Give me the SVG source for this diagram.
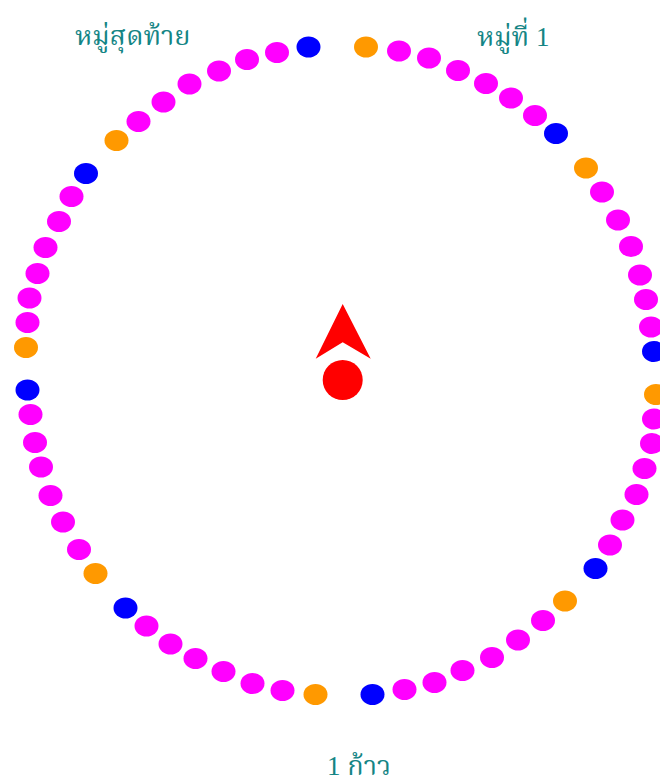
<svg xmlns="http://www.w3.org/2000/svg" width="660" height="780" viewBox="0 0 660 780">
<style>
.m{fill:#ff00ff}
.o{fill:#ff9900}
.b{fill:#0000ff}
.t{font-family:"Liberation Serif","Noto Serif Thai","Noto Sans",serif;font-size:27px;fill:#148585}
</style>
<rect width="660" height="780" fill="#ffffff"/>
<g id="dots">
<ellipse class="o" cx="366" cy="47" rx="12" ry="10.5"/>
<ellipse class="m" cx="399" cy="51" rx="12" ry="10.5"/>
<ellipse class="m" cx="429" cy="58" rx="12" ry="10.5"/>
<ellipse class="m" cx="458" cy="70.5" rx="12" ry="10.5"/>
<ellipse class="m" cx="486" cy="83.5" rx="12" ry="10.5"/>
<ellipse class="m" cx="511" cy="98" rx="12" ry="10.5"/>
<ellipse class="m" cx="535" cy="115.5" rx="12" ry="10.5"/>
<ellipse class="b" cx="556" cy="133.5" rx="12" ry="10.5"/>
<ellipse class="o" cx="586" cy="168" rx="12" ry="10.5"/>
<ellipse class="m" cx="602" cy="192" rx="12" ry="10.5"/>
<ellipse class="m" cx="618" cy="220" rx="12" ry="10.5"/>
<ellipse class="m" cx="631" cy="246.5" rx="12" ry="10.5"/>
<ellipse class="m" cx="640" cy="275" rx="12" ry="10.5"/>
<ellipse class="m" cx="646" cy="299.5" rx="12" ry="10.5"/>
<ellipse class="m" cx="651" cy="327" rx="12" ry="10.5"/>
<ellipse class="b" cx="654" cy="351.5" rx="12" ry="10.5"/>
<ellipse class="o" cx="656" cy="394.5" rx="12" ry="10.5"/>
<ellipse class="m" cx="654" cy="419" rx="12" ry="10.5"/>
<ellipse class="m" cx="652" cy="443.5" rx="12" ry="10.5"/>
<ellipse class="m" cx="644.5" cy="468.5" rx="12" ry="10.5"/>
<ellipse class="m" cx="636.5" cy="494.5" rx="12" ry="10.5"/>
<ellipse class="m" cx="622.5" cy="520" rx="12" ry="10.5"/>
<ellipse class="m" cx="610" cy="545" rx="12" ry="10.5"/>
<ellipse class="b" cx="595.5" cy="568.5" rx="12" ry="10.5"/>
<ellipse class="o" cx="565" cy="601" rx="12" ry="10.5"/>
<ellipse class="m" cx="543" cy="620.5" rx="12" ry="10.5"/>
<ellipse class="m" cx="518" cy="640" rx="12" ry="10.5"/>
<ellipse class="m" cx="492" cy="657.5" rx="12" ry="10.5"/>
<ellipse class="m" cx="462.5" cy="670.5" rx="12" ry="10.5"/>
<ellipse class="m" cx="434.5" cy="682.5" rx="12" ry="10.5"/>
<ellipse class="m" cx="404.5" cy="689.5" rx="12" ry="10.5"/>
<ellipse class="b" cx="372.5" cy="694.5" rx="12" ry="10.5"/>
<ellipse class="o" cx="315.5" cy="694.5" rx="12" ry="10.5"/>
<ellipse class="m" cx="282.5" cy="690.5" rx="12" ry="10.5"/>
<ellipse class="m" cx="252.5" cy="683.5" rx="12" ry="10.5"/>
<ellipse class="m" cx="223.5" cy="671.5" rx="12" ry="10.5"/>
<ellipse class="m" cx="195.5" cy="658.5" rx="12" ry="10.5"/>
<ellipse class="m" cx="170.5" cy="644" rx="12" ry="10.5"/>
<ellipse class="m" cx="146.5" cy="626" rx="12" ry="10.5"/>
<ellipse class="b" cx="125.5" cy="608" rx="12" ry="10.5"/>
<ellipse class="o" cx="95.5" cy="573.5" rx="12" ry="10.5"/>
<ellipse class="m" cx="79" cy="549.5" rx="12" ry="10.5"/>
<ellipse class="m" cx="63" cy="522" rx="12" ry="10.5"/>
<ellipse class="m" cx="50.5" cy="495.5" rx="12" ry="10.5"/>
<ellipse class="m" cx="41" cy="467" rx="12" ry="10.5"/>
<ellipse class="m" cx="35" cy="442.5" rx="12" ry="10.5"/>
<ellipse class="m" cx="30.5" cy="414.5" rx="12" ry="10.5"/>
<ellipse class="b" cx="27.5" cy="390" rx="12" ry="10.5"/>
<ellipse class="o" cx="26" cy="347.5" rx="12" ry="10.5"/>
<ellipse class="m" cx="27.5" cy="322.5" rx="12" ry="10.5"/>
<ellipse class="m" cx="29.5" cy="298" rx="12" ry="10.5"/>
<ellipse class="m" cx="37.5" cy="273.5" rx="12" ry="10.5"/>
<ellipse class="m" cx="45.5" cy="247.5" rx="12" ry="10.5"/>
<ellipse class="m" cx="59" cy="221.5" rx="12" ry="10.5"/>
<ellipse class="m" cx="71.5" cy="196.5" rx="12" ry="10.5"/>
<ellipse class="b" cx="86" cy="173.5" rx="12" ry="10.5"/>
<ellipse class="o" cx="116.5" cy="140.5" rx="12" ry="10.5"/>
<ellipse class="m" cx="138.5" cy="121.5" rx="12" ry="10.5"/>
<ellipse class="m" cx="163.5" cy="102" rx="12" ry="10.5"/>
<ellipse class="m" cx="189.5" cy="84" rx="12" ry="10.5"/>
<ellipse class="m" cx="219" cy="71" rx="12" ry="10.5"/>
<ellipse class="m" cx="247" cy="59.5" rx="12" ry="10.5"/>
<ellipse class="m" cx="277" cy="52.5" rx="12" ry="10.5"/>
<ellipse class="b" cx="308.5" cy="47" rx="12" ry="10.5"/>
</g>
<g id="center">
<polygon points="342.7,304 370.7,358.7 342.7,342.3 315.7,358.7" fill="#ff0000"/>
<circle cx="342.7" cy="380" r="20" fill="#ff0000"/>
</g>
<g id="labels">
<text class="t" x="75" y="44.5">หมู่สุดท้าย</text>
<text class="t" x="477" y="45.5">หมู่ที่ 1</text>
<text class="t" x="327" y="775">1 ก้าว</text>
</g>
</svg>
